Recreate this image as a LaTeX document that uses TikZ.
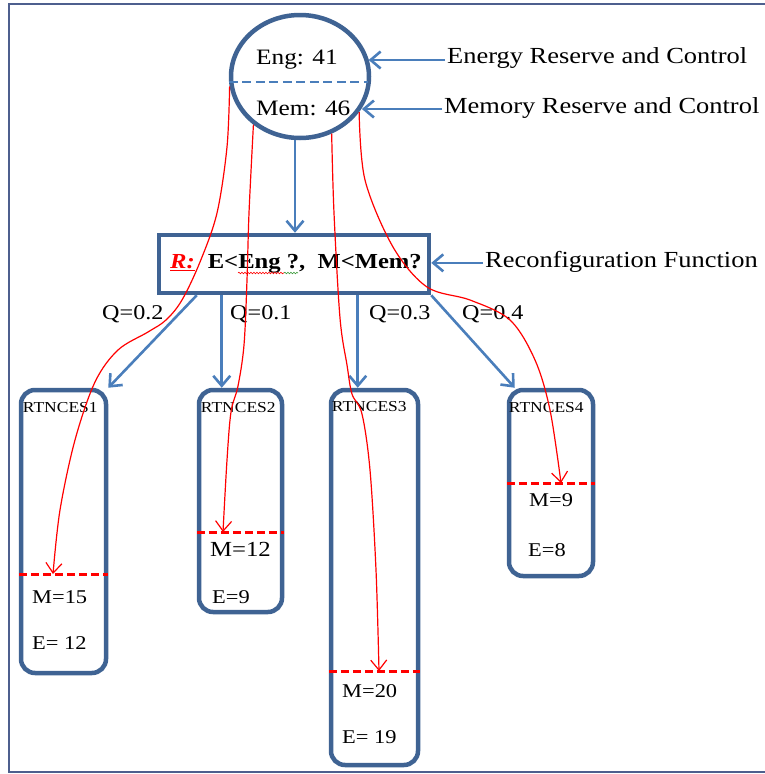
\documentclass[tikz,border=0pt]{standalone}
\usepackage{fontspec}
\setmainfont{Liberation Serif}[FakeStretch=1.15]
\usetikzlibrary{shapes.geometric,arrows.meta,decorations.pathmorphing,calc}
\definecolor{boxblue}{HTML}{3F6393}
\definecolor{arrblue}{HTML}{4A7EBB}
\definecolor{framec}{HTML}{4E5F8E}
\definecolor{spellgreen}{HTML}{3A9A3A}
\newcommand\myfs[1]{\fontsize{#1}{#1}\selectfont}
\begin{document}
\begin{tikzpicture}[x=1pt,y=-1pt,
  bluebox/.style={draw=boxblue, line width=4.5pt, rounded corners=14pt, inner sep=0pt},
  barrow/.style={draw=arrblue, line width=2.6pt, -{Straight Barb[length=10pt,width=17pt]}},
  rarrow/.style={draw=red, line width=1.2pt, -{Straight Barb[length=10pt,width=16pt]}},
  reddash/.style={draw=red, line width=3pt, dash pattern=on 8pt off 4pt},
  bluedash/.style={draw=arrblue, line width=2.6pt, dash pattern=on 9pt off 4.5pt},
  lab/.style={inner sep=0pt, anchor=base west}]
\useasboundingbox (0,0) rectangle (764,774);
% frame
\draw[framec, line width=2.2pt] (766,4) -- (9,4) -- (9,772) -- (766,772);

% memory/energy circle
\node[ellipse, draw=boxblue, line width=4.5pt, minimum width=138pt, minimum height=123pt, inner sep=0pt] (circ) at (300,76.5) {};
\draw[bluedash] ([yshift=-5.5pt]circ.west) -- ([yshift=-5.5pt,xshift=-3pt]circ.east);
\node[lab, font=\myfs{22}] (eng) at (256,64) {Eng: 41};
\node[lab, font=\myfs{22}] (mem) at (256,115) {Mem: 46};

% side labels
\node[lab, font=\myfs{23}] (le) at (447,63) {Energy Reserve and Control};
\node[lab, font=\myfs{23}] (lm) at (444,113) {Memory Reserve and Control};
\node[lab, font=\myfs{23}] (lr) at (485,267) {Reconfiguration Function};

% reconfiguration box
\node[draw=boxblue, line width=4.5pt, minimum width=270pt, minimum height=58pt, inner sep=0pt] (rbox) at (294,264) {};
\node[lab, font=\myfs{21.4}] (rtext) at (170,268) {{\color{red}\underline{\textbf{\textit{R:}}}}\hspace{13pt}\textbf{E<Eng ?,\ \ M<Mem?}};
\draw[red, line width=0.6pt, decorate, decoration={snake, amplitude=0.8pt, segment length=3pt}] (238,273) -- (284,273);
\draw[spellgreen, line width=0.6pt, decorate, decoration={snake, amplitude=0.8pt, segment length=3pt}] (284,273) -- (298,273);

% label arrows
\coordinate (ae) at ([yshift=-2.5pt]le.west);
\coordinate (am) at ([yshift=-1.5pt]lm.west);
\coordinate (ar) at ([yshift=-1.5pt]lr.west);
\draw[barrow] ([xshift=-2pt]ae) -- (ae -| circ.14);
\draw[barrow] ([xshift=-2pt]am) -- (am -| circ.-27);
\draw[barrow] ([xshift=-2pt]ar) -- (ar -| rbox.east);

% circle to box
\coordinate (ctop) at ($(rbox.north)+(1,0)$);
\draw[barrow] (circ.south -| ctop) -- (ctop);

% RTNCES boxes
\node[bluebox, minimum width=85pt, minimum height=283pt] (b1) at (63.5,531.5) {};
\node[bluebox, minimum width=83pt, minimum height=222pt] (b2) at (240.5,501) {};
\node[bluebox, minimum width=87pt, minimum height=375pt] (b3) at (374.5,577.5) {};
\node[bluebox, minimum width=84pt, minimum height=186pt] (b4) at (551,483) {};
\node[lab, font=\myfs{15.2}] (n1) at ($(b1.north west)+(4,25)$) {RTNCES1};
\node[lab, font=\myfs{15.2}] (n2) at ($(b2.north west)+(4,25)$) {RTNCES2};
\node[lab, font=\myfs{15.2}] (n3) at ($(b3.north west)+(3,24)$) {RTNCES3};
\node[lab, font=\myfs{15.2}] (n4) at ($(b4.north west)+(2,25)$) {RTNCES4};

% Q labels
\node[lab, font=\myfs{21}] (q1) at (102,319) {Q=0.2};
\node[lab, font=\myfs{21}] (q2) at (230,319) {Q=0.1};
\node[lab, font=\myfs{21}] (q3) at (369,319) {Q=0.3};
\node[lab, font=\myfs{21}] (q4) at (462,319) {Q=0.4};

% box to RTNCES arrows
\coordinate (s1) at ($(rbox.south west)+(40,0)$);
\coordinate (s2) at ($(rbox.south west)+(65,0)$);
\coordinate (s3) at ($(rbox.south west)+(201,0)$);
\draw[barrow] (s1) -- (b1.north east);
\draw[barrow] (s2) -- (s2 |- b2.north);
\draw[barrow] (s3) -- (s3 |- b3.north);
\draw[barrow] (rbox.south east) -- ($(b4.north west)+(8,0)$);

% red dashed thresholds
\coordinate (t1) at (53,574);
\coordinate (t2) at (223,532);
\coordinate (t3) at (379,671);
\coordinate (t4) at (561,483);
\draw[reddash] (t1 -| b1.west) -- (t1 -| b1.east);
\draw[reddash] (t2 -| b2.west) -- (t2 -| b2.east);
\draw[reddash] (t3 -| b3.west) -- (t3 -| b3.east);
\draw[reddash] (t4 -| b4.west) -- (t4 -| b4.east);

% M / E values
\node[lab, font=\myfs{19.5}] (m1) at (32,603) {M=15};
\node[lab, font=\myfs{19.5}] (e1) at (32,649) {E= 12};
\node[lab, font=\myfs{21.5}] (m2) at (210,556) {M=12};
\node[lab, font=\myfs{19.5}] (e2) at (212,603) {E=9};
\node[lab, font=\myfs{19.5}] (m3) at (342,697) {M=20};
\node[lab, font=\myfs{19.5}] (e3) at (342,743) {E= 19};
\node[lab, font=\myfs{19.5}] (m4) at (529,506) {M=9};
\node[lab, font=\myfs{19.5}] (e4) at (528,556) {E=8};

% red curved arrows
\draw[rarrow] plot[smooth, tension=0.55] coordinates {(circ.188) (227,147) (217,213) (200,262) (182,300) (166,320) (148,332) (118,350) (95,382) (75,440) (60,510) (t1)};
\draw[rarrow] plot[smooth, tension=0.55] coordinates {(circ.226) (249,213) (247,280) (244,345) (238,386) (231,412) (227,460) (t2)};
\draw[rarrow] plot[smooth, tension=0.55] coordinates {(circ.-61) (334,213) (340,318) (347,365) (352,394) (362,414) (370,470) (376,570) (t3)};
\draw[rarrow] plot[smooth, tension=0.55] coordinates {(circ.-31) (365,180) (393,247) (427,287) (470,300) (510,320) (535,360) (550,410) (t4)};
\end{tikzpicture}
\end{document}
